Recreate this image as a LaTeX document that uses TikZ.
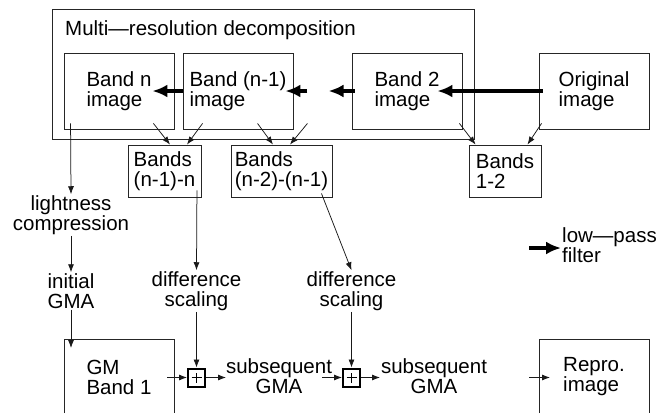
\documentclass[tikz,border=0pt]{standalone}
\usepackage{fontspec}
\setmainfont{Liberation Sans}
\usetikzlibrary{arrows.meta}
\begin{document}
\begin{tikzpicture}[x=1pt,y=-1pt,
  every node/.style={font=\fontsize{20.5}{20}\selectfont},
  frame/.style={draw=black!85, line width=0.9pt, inner sep=0pt, align=left},
  txt/.style={inner sep=1pt, align=center},
  thinarrow/.style={-{Latex[length=8pt,width=6pt]}, line width=0.75pt, black!90},
  lowpass/.style={-{Latex[length=15pt,width=13pt]}, line width=3.5pt},
  sum/.style={draw, line width=2pt, minimum width=17pt, minimum height=18pt, inner sep=0pt,
    path picture={\draw[line width=0.75pt]
      ([xshift=-5pt]path picture bounding box.center) -- ([xshift=5pt]path picture bounding box.center)
      ([yshift=-5pt]path picture bounding box.center) -- ([yshift=5pt]path picture bounding box.center);}}
]
\useasboundingbox (0,0) rectangle (669,413);
\fill[white] (0,0) rectangle (669,413);

% decomposition stage
\node[frame, minimum width=422pt, minimum height=130pt] (multi) at (263,74) {};
\node[inner sep=0pt, anchor=west] (title) at (65,30) {Multi—resolution decomposition};
\node[frame, minimum width=110pt, minimum height=76pt] (bandn) at (119,91) {Band n\\image};
\node[frame, minimum width=110pt, minimum height=76pt] (bandm) at (238,91) {Band (n-1)\\image};
\node[frame, minimum width=110pt, minimum height=76pt] (band2) at (407,91) {Band 2\\image};
\node[frame, minimum width=110pt, minimum height=76pt] (orig) at (594,91) {Original\\image};

% band differences
\node[frame, minimum width=73pt, minimum height=52pt] (dnn) at (164.5,171) {Bands\\(n-1)-n};
\node[frame, minimum width=101pt, minimum height=52pt] (dmm) at (281.5,171) {Bands\\(n-2)-(n-1)};
\node[frame, minimum width=72pt, minimum height=52pt] (d12) at (505,171) {Bands\\1-2};

% processing labels
\node[txt] (light) at (71,215) {lightness\\compression};
\node[txt] (init) at (71,291) {initial\\GMA};
\node[txt] (diff1) at (196.5,291) {difference\\scaling};
\node[txt] (diff2) at (351.5,291) {difference\\scaling};
\node[sum] (plus1) at (196.5,377.5) {};
\node[sum] (plus2) at (351.5,377.5) {};
\node[txt] (sub1) at (279,376) {subsequent\\GMA};
\node[txt] (sub2) at (434,376) {subsequent\\GMA};

% open-bottom output boxes
\draw[draw=black!85, line width=0.9pt] (64,413) -- (64,339) -- (174,339) -- (174,413);
\draw[draw=black!85, line width=0.9pt] (539,413) -- (539,339) -- (649,339) -- (649,413);
\node[inner sep=0pt, align=left] (gm) at (119,377) {GM\\Band 1};
\node[inner sep=0pt, align=left] (repro) at (594,377) {Repro.\\image};

% free ends of connectors
\coordinate (gmin) at (71,348);
\coordinate (gmout) at (167,377.5);
\coordinate (sub1out) at (322,377.5);
\coordinate (sub2end) at (380,377.5);
\coordinate (sub1end) at (226,377.5);
\coordinate (reproa) at (529,377.5);
\coordinate (reprob) at (550,377.5);
\coordinate (lpa) at (529,248);
\coordinate (lpb) at (561,248);

% low-pass chain
\draw[lowpass] ([xshift=4pt]orig.west) -- ([xshift=-25pt]band2.east);
\draw[lowpass] ([xshift=3pt]band2.west) -- ([xshift=-23pt]band2.west);
\draw[lowpass] ([xshift=14pt]bandm.east) -- ([xshift=-8pt]bandm.east);
\draw[lowpass] (bandm.west) -- ([xshift=-22pt]bandn.east);

% band differences
\draw[thinarrow] ([shift={(-21pt,6pt)}]bandn.south east) -- ([xshift=5.5pt]dnn.north);
\draw[thinarrow] ([shift={(20pt,6pt)}]bandm.south west) -- ([xshift=22.5pt]dnn.north);
\draw[thinarrow] ([shift={(75pt,6pt)}]bandm.south west) -- ([xshift=-8.5pt]dmm.north);
\draw[thinarrow] ([shift={(14pt,6pt)}]bandm.south east) -- ([xshift=8.5pt]dmm.north);
\draw[thinarrow] ([shift={(-3pt,6pt)}]band2.south east) -- ([xshift=7pt]d12.north west);
\draw[thinarrow] ([shift={(3pt,6pt)}]orig.south west) -- ([xshift=-14pt]d12.north east);

% processing chain
\draw[thinarrow] ([shift={(7pt,6pt)}]bandn.south west) -- (light.north);
\draw[thinarrow] (light.south) -- (init.north);
\draw[thinarrow] (init.south) -- (gmin);
\draw[thinarrow] ([shift={(-4.5pt,7pt)}]dnn.south east) -- (diff1.north);
\draw[thinarrow] (diff1.south) -- (plus1.north);
\draw[thinarrow] ([shift={(-11pt,4pt)}]dmm.south east) -- (diff2.north);
\draw[thinarrow] (diff2.south) -- (plus2.north);
\draw[thinarrow] (gmout) -- (plus1.west);
\draw[thinarrow] (plus1.east) -- (sub1end);
\draw[thinarrow] (sub1out) -- (plus2.west);
\draw[thinarrow] (plus2.east) -- (sub2end);
\draw[thinarrow] (reproa) -- (reprob);

% legend
\draw[lowpass] (lpa) -- (lpb);
\node[inner sep=0pt, align=left, anchor=west] (lp) at (562,245) {low—pass\\filter};
\end{tikzpicture}
\end{document}
